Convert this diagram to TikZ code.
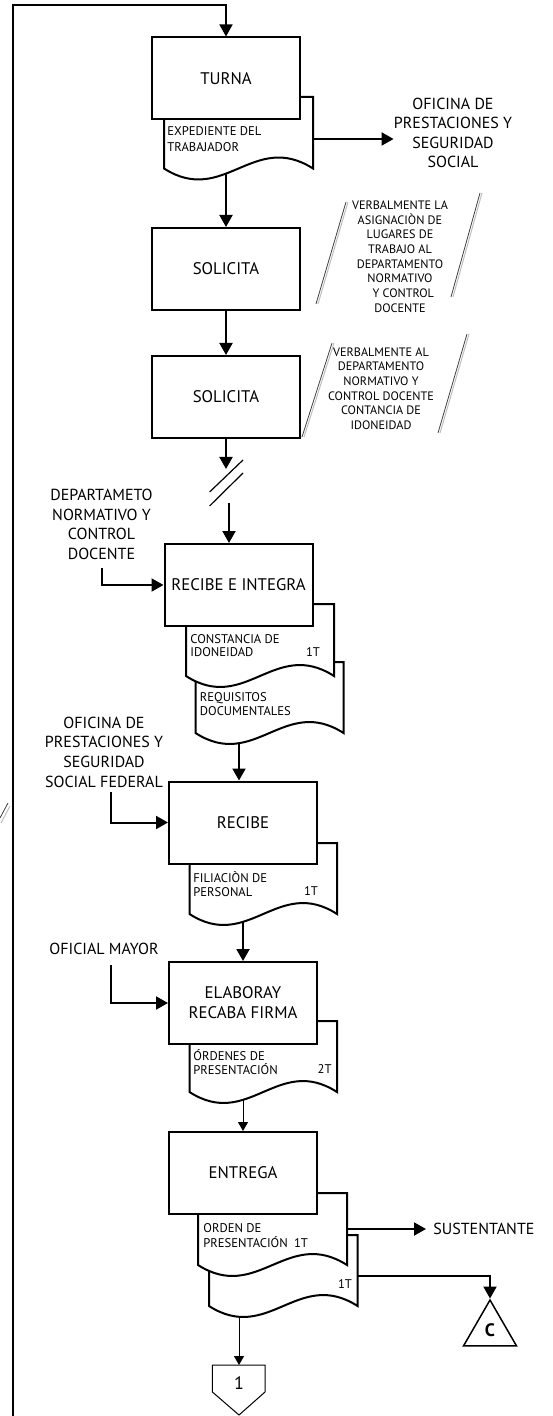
\documentclass[tikz,border=0pt]{standalone}
\usepackage{fontspec}
\setmainfont{PT Sans}
\usetikzlibrary{arrows.meta,calc,shapes.geometric}
\tikzset{
  box/.style={draw, line width=1pt, fill=white, minimum width=74pt, minimum height=41pt, inner sep=0pt, font=\fontsize{8.4}{10}\selectfont, align=center},
  doc/.style={draw, line width=1pt, fill=white},
  arr/.style={line width=1pt, -{Triangle[length=6pt,width=6.5pt]}},
  thinarr/.style={line width=0.5pt, -{Triangle[length=4.5pt,width=5pt]}},
  lbl/.style={font=\fontsize{8}{9.8}\selectfont, align=center, inner sep=0pt},
  doctxt/.style={font=\fontsize{6.3}{7}\selectfont, align=left, inner sep=0pt, anchor=west},
  tagtxt/.style={font=\fontsize{6.3}{7}\selectfont, inner sep=0pt},
  note/.style={font=\fontsize{6.1}{7.35}\selectfont, align=center, inner sep=0pt},
  slashA/.style={line width=0.4pt, black!75},
  slashB/.style={line width=0.5pt, black!25},
}
\newcommand{\docshape}[4]{\draw[doc] (#1,#3) -- (#2,#3) -- (#2,#4) .. controls ($(#1,#4)!0.6!(#2,#4)+(0,-38)$) and ($(#1,#4)!0.4!(#2,#4)+(0,38)$) .. (#1,#4) -- cycle;}
\begin{document}
\begin{tikzpicture}[x=0.5pt,y=-0.5pt]
\useasboundingbox (0,0) rectangle (552,1416);
% documents (drawn before boxes)
\docshape{164}{313}{97}{168.5}
\docshape{195.5}{343.5}{662}{733}
\docshape{186}{334}{604}{676}
\docshape{189.5}{337}{843}{914}
\docshape{189.5}{337}{1021}{1092}
\docshape{209}{357.6}{1235}{1306}
\docshape{198}{347}{1193}{1265}
% process boxes
\node[box] (turna) at (226,78.5) {TURNA};
\node[box] (sol1) at (226,269) {SOLICITA};
\node[box] (sol2) at (226,397) {SOLICITA};
\node[box] (rie) at (238.5,585) {RECIBE E INTEGRA};
\node[box] (recibe) at (243,822.5) {RECIBE};
\node[box] (elabora) at (243,1003) {ELABORAY\\RECABA FIRMA};
\node[box] (entrega) at (243,1173) {ENTREGA};
% document texts
\node[doctxt, font=\fontsize{6.3}{8}\selectfont] (t1) at (167,138.7) {EXPEDIENTE DEL\\TRABAJADOR};
\node[doctxt, font=\fontsize{6.3}{6.6}\selectfont] (t2) at (190,645.5) {CONSTANCIA DE\\IDONEIDAD};
\node[tagtxt] (t2b) at (313,652) {1T};
\node[doctxt] (t3) at (199.5,704) {REQUISITOS\\DOCUMENTALES};
\node[doctxt] (t4) at (193,884) {FILIACIÒN DE\\PERSONAL};
\node[tagtxt] (t4b) at (311,891) {1T};
\node[doctxt] (t5) at (193,1062) {ÓRDENES DE\\PRESENTACIÓN};
\node[tagtxt] (t5b) at (324.6,1069) {2T};
\node[doctxt, font=\fontsize{6.3}{7.5}\selectfont] (t6) at (203,1236) {ORDEN DE\\PRESENTACIÓN\enspace 1T};
\node[tagtxt] (t7) at (345,1284) {1T};
% outside labels
\node[lbl] (ofi) at (453,133) {OFICINA DE\\PRESTACIONES Y\\SEGURIDAD\\SOCIAL};
\node[lbl] (dep) at (101.5,524.5) {DEPARTAMETO\\NORMATIVO Y\\CONTROL\\DOCENTE};
\node[lbl] (ofed) at (104,752) {OFICINA DE\\PRESTACIONES Y\\SEGURIDAD\\SOCIAL FEDERAL};
\node[lbl] (ofm) at (104,949) {OFICIAL MAYOR};
\node[lbl, anchor=west, inner xsep=3.5pt] (sust) at (426,1229) {SUSTENTANTE};
% annotations
\node[note] (n1) at (400,256.5) {VERBALMENTE LA\\ASIGNACIÒN DE\\LUGARES DE\\TRABAJO AL\\DEPARTAMENTO\\NORMATIVO\\\ \ Y CONTROL\\DOCENTE};
\draw[slashB] (318,304) -- (348,202);
\draw[slashA] (316,304) -- (346,202);
\draw[slashB] (453,297) -- (482,193);
\draw[slashA] (451,297) -- (480,193);
\node[note] (n2) at (381,388.5) {VERBALMENTE AL\\DEPARTAMENTO\\NORMATIVO Y\\CONTROL DOCENTE\\CONTANCIA DE\\IDONEIDAD};
\draw[slashB] (304,437) -- (334,343);
\draw[slashA] (302,437) -- (332,343);
\draw[slashB] (440,433) -- (469,334);
\draw[slashA] (438,433) -- (467,334);
\draw[slashB] (1,823) -- (10,806);
\draw[slashA] (0,818) -- (8,803);
% connectors
\coordinate (loopstart) at (13,1416);
\coordinate (looptop) at (226,5);
\draw[line width=0.8pt, -{Triangle[length=6pt,width=6.5pt]}] (loopstart) |- (looptop) -- (turna.north);
\coordinate (d1b) at (226,174);
\draw[arr] (d1b) -- (sol1.north);
\coordinate (d1r) at (313,139);
\draw[arr] (d1r) -- (d1r -| ofi.west);
\draw[arr] (sol1.south) -- (sol2.north);
\coordinate (brkA) at (226,469);
\draw[arr] (sol2.south) -- (brkA);
\draw[line width=0.6pt] (209.6,492) -- (243,460);
\draw[line width=0.6pt] (209.6,506) -- (243,473);
\coordinate (brkB) at (229,503);
\draw[arr] (brkB) -- (brkB |- rie.north);
\coordinate (depc) at (101.5,568);
\draw[arr] (depc) |- (rie.west);
\coordinate (d3b) at (239,743);
\draw[arr] (d3b) -- (d3b |- recibe.north);
\coordinate (ofedc) at (111,792);
\draw[arr] (ofedc) |- (recibe.west);
\coordinate (d4b) at (243,921);
\draw[arr] (d4b) -- (elabora.north);
\coordinate (ofmc) at (111,965);
\draw[arr] (ofmc) |- (elabora.west);
\coordinate (d5b) at (243,1099);
\draw[thinarr] (d5b) -- (entrega.north);
\coordinate (e1r) at (347,1229);
\draw[arr] (e1r) -- (sust.west);
% connector C
\node[draw, line width=0.75pt, regular polygon, regular polygon sides=3, minimum size=30.6pt, inner sep=0pt, font=\fontsize{9}{10}\selectfont\bfseries] (conC) at (490,1330.6) {C};
\coordinate (e2r) at (357.6,1276);
\draw[arr] (e2r) -| (conC.corner 1);
% off-page connector 1
\node[font=\fontsize{9}{10}\selectfont, inner sep=0pt] (off1) at (239,1383) {1};
\draw[line width=0.5pt] (212.4,1365) -- (265,1365) -- (265,1392) -- (239,1415) -- (212.4,1392) -- cycle;
\coordinate (offtop) at (239,1365);
\coordinate (e2b) at (239,1317);
\draw[thinarr] (e2b) -- (offtop);
\end{tikzpicture}
\end{document}
